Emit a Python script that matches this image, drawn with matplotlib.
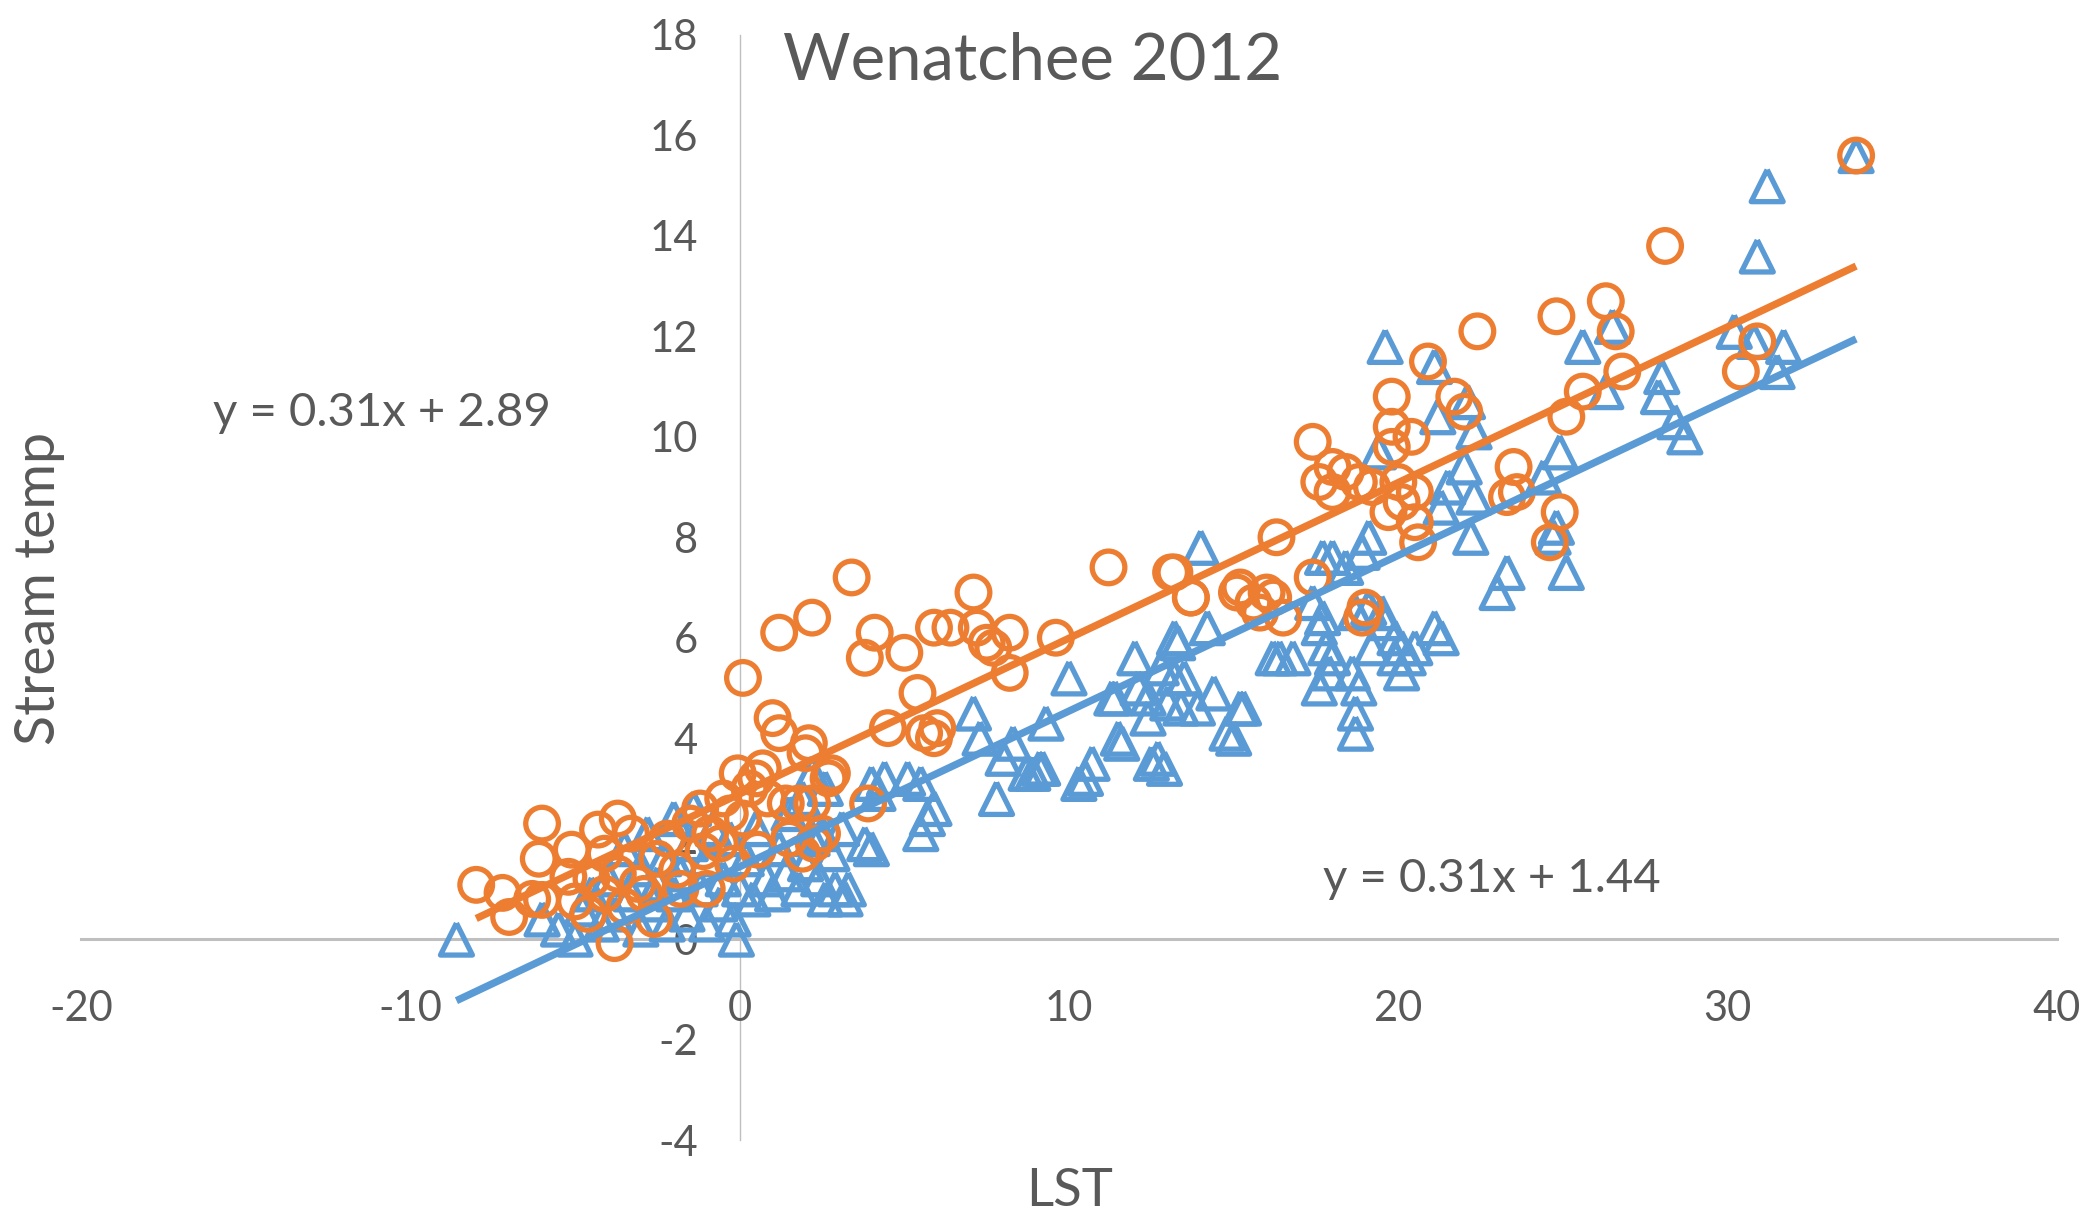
import numpy as np
import matplotlib
matplotlib.use("Agg")
import matplotlib.pyplot as plt

plt.rcParams['font.family'] = ['Lato', 'DejaVu Sans']
plt.rcParams['axes.unicode_minus'] = False

# orange series (circles)
orange_x = [33.9, 28.1, 26.3, 24.8, 22.4, 26.6, 20.9, 26.8, 30.4, 30.9, 25.6, 21.7, 19.8, 22.0, 25.1,
            19.8, 20.4, 17.4, 19.8, 23.5, 18.0, 18.4, 18.8, 17.6, 19.2, 18.0, 20.0, 20.5, 20.1, 19.7,
            20.5, 20.6, 23.3, 23.6, 24.9, 24.6, 16.3, 17.4, 13.2, 13.7, 15.1, 15.6, 16.2, 15.8, 16.5,
            19.0, 18.9, 11.2, 9.6, 7.2, 7.1, 7.5, 7.7, 8.2, 8.2, 6.4, 5.9, 5.0, 3.8, 4.1,
            3.4, 2.2, 1.2, 0.1, 5.4, 4.5, 5.9, 5.6, 6.0, 1.0, 1.2, 2.1, 2.0, 2.8, 3.9,
            13.1, 13.7, 15.2, 16.0,
            -8.0, -7.2, -7.0, -6.0, -6.1, -6.0, -6.3, -5.1, -5.2, -5.0, -4.3, -3.7, -4.1, -3.3, -3.7,
            -4.5, -4.1, -3.1, -3.5, -2.9, -4.6, -3.8, -1.9, -0.9, -1.1, -0.6, 0.1, -0.06, 0.7, 0.85,
            1.8, 1.4, 2.2, 0.55, -0.2, 2.5, 2.7, -2.5, -2.2, -1.5, -1.2, -0.5, 0.3, 0.5, -0.3,
            -1.8, -2.6, -1.0, 1.5, 2.25, 1.9]
orange_y = [15.6, 13.8, 12.7, 12.4, 12.1, 12.1, 11.5, 11.3, 11.3, 11.9, 10.9, 10.8, 10.8, 10.5, 10.4,
            10.2, 10.0, 9.9, 9.8, 9.4, 9.4, 9.3, 9.1, 9.1, 9.0, 8.9, 9.1, 8.9, 8.7, 8.5,
            8.3, 7.9, 8.8, 8.9, 8.5, 7.9, 8.0, 7.2, 7.3, 6.8, 6.9, 6.7, 6.8, 6.5, 6.4,
            6.6, 6.4, 7.4, 6.0, 6.2, 6.9, 5.9, 5.8, 6.1, 5.3, 6.2, 6.2, 5.7, 5.6, 6.1,
            7.2, 6.4, 6.1, 5.2, 4.9, 4.2, 4.0, 4.1, 4.2, 4.4, 4.1, 3.9, 3.7, 3.3, 2.7,
            7.3, 6.8, 7.0, 6.9,
            1.08, 0.92, 0.44, 2.3, 1.6, 0.78, 0.8, 1.78, 1.24, 0.75, 2.18, 2.4, 1.7, 2.1, 1.3,
            1.2, 0.9, 1.1, 0.65, 0.9, 0.5, -0.08, 1.38, 2.1, 1.75, 1.9, 2.4, 3.3, 3.4, 2.8,
            2.7, 2.7, 2.7, 1.78, 1.5, 2.1, 3.2, 1.6, 2.0, 2.3, 2.6, 2.8, 3.0, 3.2, 2.5,
            1.0, 0.4, 1.0, 2.0, 1.9, 1.7]

# blue series (triangles)
blue_x = [33.9, 31.2, 30.9, 19.6, 21.1, 26.5, 25.6, 31.7, 30.2, 31.5, 30.8, 26.3, 28.0, 27.9, 28.4,
          28.7, 21.2, 22.1, 22.3, 19.4, 22.0, 21.5, 21.3, 22.3, 22.2, 24.9, 24.4, 23.0, 23.3, 25.1,
          24.7, 24.8, 19.1, 18.9, 18.4, 18.0, 17.7, 14.0, 17.4, 17.7, 17.6, 17.8, 18.0, 17.9, 17.6,
          16.2, 16.8, 16.4, 19.5, 19.6, 19.9, 20.1, 19.2, 19.9, 20.3, 21.1, 21.3, 20.5, 20.1, 18.6,
          18.8, 18.7, 18.7, 19.1, 18.7, 14.2, 13.2, 13.3, 13.5, 12.8, 13.2, 13.0, 13.4, 12.4, 12.0,
          11.4, 12.4, 12.1, 11.6, 12.9, 12.5, 12.7, 14.4, 13.9, 15.3, 15.2, 15.0, 14.8, 11.3, 11.5,
          10.0, 9.3, 10.5, 10.7, 10.3, 9.2, 8.9, 9.1, 8.7, 7.8, 8.0, 8.3, 7.1, 7.3, 5.1,
          5.5, 5.9, 5.5, 5.7, 4.0, 4.2, 4.4, 3.8, 4.0, 3.1, 3.3, 2.9, 2.5, -8.6, -0.1,
          -6.0, -5.5, -5.0, -4.8, -4.5, -4.2, -4.0, -3.8, -3.5, -3.3, -3.0, -3.0, -2.8, -2.6, -2.5,
          -2.3, -2.2, -2.0, -2.0, -1.8, -1.6, -1.5, -1.4, -1.2, -1.0, -1.0, -0.8, -0.6, -0.5, -0.3,
          -0.2, 0.0, 0.2, 0.4, 0.5, 0.8, 1.0, 1.2, 1.4, 1.5, 1.8, 2.0, 2.2, 2.4, 2.6,
          2.8, 3.2, 1.9, 2.6, 2.2]
blue_y = [15.6, 15.0, 13.6, 11.8, 11.4, 12.2, 11.8, 11.8, 12.1, 11.3, 11.9, 10.9, 11.2, 10.8, 10.3,
          10.0, 10.4, 10.7, 10.1, 9.7, 9.4, 9.0, 8.6, 8.8, 8.0, 9.7, 9.2, 6.9, 7.3, 7.3,
          8.0, 8.2, 8.0, 7.7, 7.4, 7.6, 7.6, 7.8, 6.7, 6.4, 6.2, 5.8, 5.6, 5.3, 5.0,
          5.6, 5.6, 5.6, 6.5, 6.3, 6.0, 5.8, 5.8, 5.6, 5.6, 6.2, 6.0, 5.8, 5.3, 5.3,
          5.0, 4.5, 4.1, 6.6, 6.5, 6.2, 6.0, 5.9, 5.2, 5.4, 5.2, 4.7, 4.6, 4.8, 5.6,
          4.8, 4.4, 5.0, 3.9, 3.4, 3.5, 3.6, 4.9, 4.6, 4.6, 4.6, 4.0, 4.1, 4.8, 4.0,
          5.2, 4.3, 3.2, 3.5, 3.1, 3.4, 3.3, 3.4, 3.3, 2.8, 3.6, 3.9, 4.5, 4.0, 3.2,
          3.1, 2.6, 2.1, 2.4, 3.1, 2.9, 3.2, 1.9, 1.8, 2.2, 1.0, 1.0, 2.1, 0.0, 0.0,
          0.4, 0.2, 0.0, 0.6, 0.9, 0.3, 1.2, 0.5, 1.8, 0.9, 0.2, 1.4, 2.1, 0.7, 1.1,
          1.6, 0.3, 2.4, 0.9, 1.3, 0.5, 1.9, 2.6, 1.0, 0.3, 1.6, 2.2, 0.7, 1.2, 2.0,
          0.4, 1.0, 1.6, 0.8, 2.2, 1.2, 0.9, 1.8, 1.3, 2.5, 1.0, 1.5, 2.0, 1.2, 0.8,
          1.7, 0.8, 2.8, 3.0, 3.3]

# trend line coefficients (slope, intercept) as shown on the chart
orange_fit = (0.31, 2.89)
blue_fit = (0.31, 1.44)

orange = '#ED7D31'
blue = '#5B9BD5'
grey_txt = '#595959'

fig = plt.figure(figsize=(20.89, 12.19), dpi=100)
ax = fig.add_axes([81 / 2089, 1 - 1140 / 1219, (2057 - 81) / 2089, (1140 - 35) / 1219])

tri = [(0, 1), (-1, -1), (1, -1), (0, 1)]
ax.scatter(blue_x, blue_y, s=23 ** 2, marker=tri, facecolors='none',
           edgecolors=blue, linewidths=3.8, zorder=3)
ax.scatter(orange_x, orange_y, s=23.5 ** 2, marker='o', facecolors='none',
           edgecolors=orange, linewidths=3.8, zorder=4)

for xs, fit, col in [(blue_x, blue_fit, blue), (orange_x, orange_fit, orange)]:
    xl = np.array([min(xs), max(xs)])
    ax.plot(xl, fit[0] * xl + fit[1], color=col, lw=5.3, solid_capstyle='butt', zorder=5)

ax.set_xlim(-20, 40)
ax.set_ylim(-4, 18)
ax.set_xticks(range(-20, 41, 10))
ax.set_yticks(range(-4, 19, 2))

for s in ['top', 'right']:
    ax.spines[s].set_visible(False)
ax.spines['bottom'].set_position(('data', 0))
ax.spines['left'].set_position(('data', 0))
ax.spines['bottom'].set_color('#BFBFBF')
ax.spines['bottom'].set_linewidth(2.2)
ax.spines['left'].set_color('#BFBFBF')
ax.spines['left'].set_linewidth(1.0)
ax.spines['bottom'].set_zorder(1)
ax.spines['left'].set_zorder(1)

ax.tick_params(axis='x', length=0, pad=37, labelsize=30, labelcolor=grey_txt)
ax.tick_params(axis='y', length=0, pad=30, labelsize=30, labelcolor=grey_txt)
ax.patch.set_visible(False)

fig.text(783 / 2089, 1 - 61 / 1219, 'Wenatchee 2012', fontsize=47, color=grey_txt,
         ha='left', va='center')
fig.text(213 / 2089, 1 - 413 / 1219, 'y = 0.31x + 2.89', fontsize=34, color=grey_txt,
         ha='left', va='center')
fig.text(1323 / 2089, 1 - 879 / 1219, 'y = 0.31x + 1.44', fontsize=34, color=grey_txt,
         ha='left', va='center')
fig.text(40 / 2089, 1 - 588 / 1219, 'Stream temp', fontsize=40, color=grey_txt,
         rotation=90, ha='center', va='center')
fig.text(1070 / 2089, 1 - 1192 / 1219, 'LST', fontsize=38, color=grey_txt,
         ha='center', va='center')

fig.savefig('out.png', dpi=100)
